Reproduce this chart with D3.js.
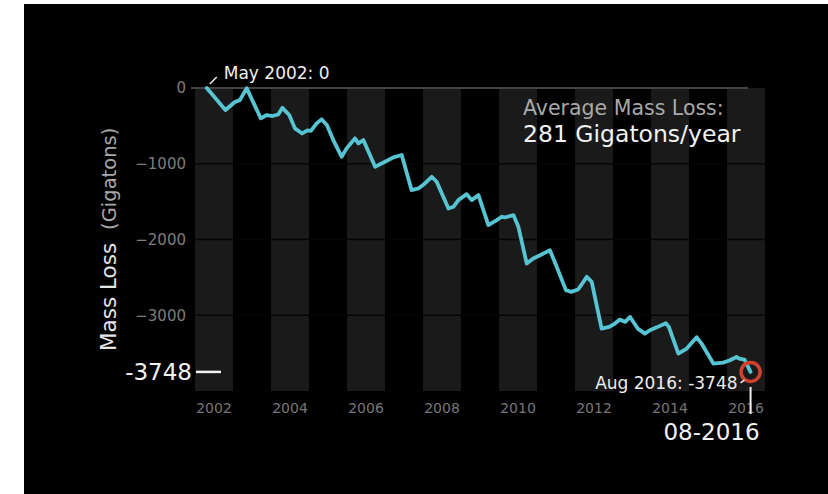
<!DOCTYPE html>
<html><head><meta charset="utf-8">
<script src="https://cdn.jsdelivr.net/npm/d3@7"></script>
<style>body{margin:0;background:#fff;}svg{display:block;}</style>
</head><body>
<script>
const years = [2002.31,2002.8,2003.05,2003.18,2003.36,2003.73,2003.89,2004.04,2004.19,2004.3,2004.48,2004.63,2004.82,2004.96,2005.05,2005.2,2005.33,2005.47,2005.64,2005.86,2005.99,2006.21,2006.3,2006.43,2006.74,2007.0,2007.22,2007.44,2007.7,2007.88,2008.05,2008.23,2008.36,2008.67,2008.8,2008.93,2009.15,2009.28,2009.46,2009.72,2009.94,2010.07,2010.16,2010.38,2010.51,2010.73,2010.9,2011.08,2011.34,2011.52,2011.76,2011.9,2012.08,2012.18,2012.31,2012.44,2012.7,2012.9,2013.05,2013.18,2013.32,2013.45,2013.65,2013.84,2013.97,2014.15,2014.39,2014.47,2014.72,2014.94,2015.2,2015.33,2015.64,2015.9,2016.08,2016.25,2016.32,2016.46,2016.62];
const massLoss = [0,-291,-185,-160,-2,-400,-357,-370,-350,-262,-357,-533,-600,-560,-565,-467,-414,-489,-687,-908,-797,-665,-731,-687,-1040,-974,-916,-885,-1348,-1326,-1260,-1172,-1238,-1590,-1568,-1480,-1401,-1480,-1414,-1810,-1744,-1700,-1709,-1678,-1833,-2317,-2251,-2207,-2141,-2362,-2669,-2691,-2660,-2590,-2493,-2559,-3176,-3154,-3110,-3057,-3088,-3022,-3176,-3242,-3198,-3160,-3105,-3154,-3506,-3440,-3290,-3374,-3638,-3625,-3594,-3550,-3572,-3585,-3748];
const bandYears = [2002,2004,2006,2008,2010,2012,2014,2016];
const xTickYears = [2002,2004,2006,2008,2010,2012,2014,2016];
const yTicks = [0,-1000,-2000,-3000];
const startLabel = "May 2002: 0";
const endLabel = "Aug 2016: -3748";
const endValueLabel = "-3748";
const endDateLabel = "08-2016";
const avgTitle = "Average Mass Loss:";
const avgValue = "281 Gigatons/year";

const W = 828, H = 494;
const svg = d3.select("body").append("svg").attr("width", W).attr("height", H);
const font = "DejaVu Sans, sans-serif";

svg.append("rect").attr("x",24).attr("y",4).attr("width",W-24).attr("height",H-4).attr("fill","#000");

const x = d3.scaleLinear().domain([2002, 2017]).range([195, 765]);
const y = d3.scaleLinear().domain([0, -4000]).range([88, 391]);

// bands
svg.append("g").selectAll("rect").data(bandYears).join("rect")
  .attr("x", d => x(d)).attr("width", d => x(d+1) - x(d))
  .attr("y", y(0)).attr("height", y(-4000) - y(0))
  .attr("fill", "#1a1a1a");

// gridlines
svg.append("g").selectAll("line").data(yTicks.filter(d => d !== 0)).join("line")
  .attr("x1", x(2002)).attr("x2", x(2017))
  .attr("y1", d => y(d)).attr("y2", d => y(d))
  .attr("stroke", "#050505").attr("stroke-width", 1.5);
svg.append("line").attr("x1", x(2002)-4).attr("x2", x(2016.55))
  .attr("y1", y(0)).attr("y2", y(0)).attr("stroke", "#444").attr("stroke-width", 2);

// y tick labels
svg.append("g").selectAll("text").data(yTicks).join("text")
  .attr("x", 186).attr("y", d => y(d)).attr("dy", "0.35em")
  .attr("text-anchor", "end").attr("fill", "#7d7d7d")
  .attr("font-family", font).attr("font-size", 15)
  .text(d => String(d).replace("-", "\u2212"));

// x tick labels
svg.append("g").selectAll("text").data(xTickYears).join("text")
  .attr("x", d => x(d + 0.5)).attr("y", 413)
  .attr("text-anchor", "middle").attr("fill", "#777")
  .attr("font-family", font).attr("font-size", 14)
  .text(d => d);

// y axis title
const yt = svg.append("text").attr("transform", "translate(116,351) rotate(-90)")
  .attr("font-family", font);
yt.append("tspan").attr("fill", "#e6e6e6").attr("font-size", 21.5).text("Mass Loss");
yt.append("tspan").attr("fill", "#a8a8a8").attr("font-size", 19.5).attr("dx", 13).text("(Gigatons)");

// line
const pts = years.map((d, i) => [d, massLoss[i]]);
svg.append("path").datum(pts)
  .attr("fill", "none").attr("stroke", "#56c4d2").attr("stroke-width", 3.8)
  .attr("stroke-linejoin", "round").attr("stroke-linecap", "round")
  .attr("d", d3.line().x(d => x(d[0])).y(d => y(d[1])));

// start annotation
const sx = x(years[0]), sy = y(massLoss[0]);
svg.append("line").attr("x1", sx + 3).attr("y1", sy - 4).attr("x2", sx + 10).attr("y2", sy - 11)
  .attr("stroke", "#eee").attr("stroke-width", 1.5);
svg.append("text").attr("x", sx + 17).attr("y", 79).attr("fill", "#eee")
  .attr("font-family", font).attr("font-size", 17).text(startLabel);

// end annotation
const ex = x(years[years.length-1]), ey = y(massLoss[massLoss.length-1]);
svg.append("circle").attr("cx", ex).attr("cy", ey).attr("r", 9.5)
  .attr("fill", "none").attr("stroke", "#d2412a").attr("stroke-width", 3.5);
svg.append("line").attr("x1", ex - 6).attr("y1", ey + 8).attr("x2", ex - 10).attr("y2", ey + 11)
  .attr("stroke", "#eee").attr("stroke-width", 1.5);
svg.append("text").attr("x", ex - 13).attr("y", 389).attr("text-anchor", "end").attr("fill", "#eee")
  .attr("font-family", font).attr("font-size", 17).text(endLabel);
svg.append("line").attr("x1", ex).attr("x2", ex).attr("y1", ey + 15).attr("y2", 414)
  .attr("stroke", "#eee").attr("stroke-width", 2);
svg.append("text").attr("x", ex + 9).attr("y", 440).attr("text-anchor", "end").attr("fill", "#f2f2f2")
  .attr("font-family", font).attr("font-size", 23).text(endDateLabel);

// left value marker
svg.append("text").attr("x", 192).attr("y", ey).attr("dy", "0.36em").attr("text-anchor", "end")
  .attr("fill", "#f2f2f2").attr("font-family", font).attr("font-size", 23).text(endValueLabel);
svg.append("line").attr("x1", 196).attr("x2", 221).attr("y1", ey).attr("y2", ey)
  .attr("stroke", "#f2f2f2").attr("stroke-width", 2.5);

// average annotation
svg.append("text").attr("x", 523).attr("y", 115).attr("fill", "#a8a8a8")
  .attr("font-family", font).attr("font-size", 20.5).text(avgTitle);
svg.append("text").attr("x", 523).attr("y", 142).attr("fill", "#f2f2f2")
  .attr("font-family", font).attr("font-size", 23.5).text(avgValue);
</script>
</body></html>
